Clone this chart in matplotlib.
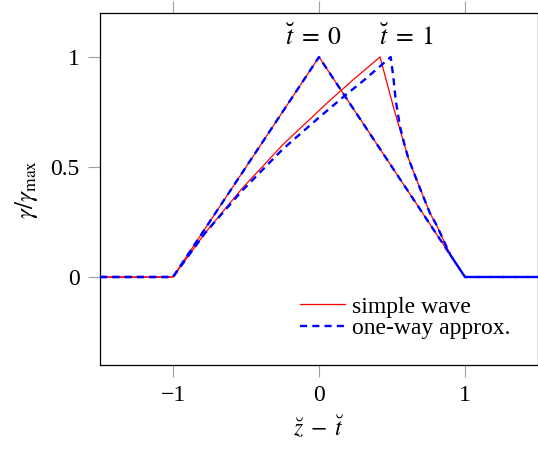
import matplotlib
matplotlib.use("Agg")
import matplotlib.pyplot as plt

plt.rcParams['font.family'] = ['Liberation Serif', 'DejaVu Serif']
plt.rcParams['mathtext.fontset'] = 'stix'

# t = 0 (both curves identical)
t0_x = [-1.5, -1.0, 0.0, 1.0, 1.5]
t0_y = [0.0, 0.0, 1.0, 0.0, 0.0]

# t = 1, simple wave
sw_x = [-1.5, -1.0, -0.78, -0.53, -0.25, -0.09, 0.07, 0.24, 0.418,
        0.509, 0.612, 0.669, 0.76, 0.806, 0.852, 0.90, 1.0, 1.5]
sw_y = [0.0, 0.0, 0.2, 0.40, 0.60, 0.70, 0.80, 0.90, 1.0,
        0.774, 0.54, 0.441, 0.29, 0.235, 0.168, 0.10, 0.0, 0.0]

# t = 1, one-way approximation
ow_x = [-1.5, -1.0, -0.78, -0.53, -0.25, 0.0, 0.18, 0.30, 0.429, 0.491,
        0.509, 0.525, 0.555, 0.589, 0.612, 0.669, 0.76, 0.806, 0.852, 0.90, 1.0, 1.5]
ow_y = [0.0, 0.0, 0.2, 0.39, 0.58, 0.725, 0.826, 0.89, 0.964, 1.0,
        0.91, 0.805, 0.683, 0.592, 0.54, 0.441, 0.29, 0.235, 0.168, 0.10, 0.0, 0.0]

xticks = [-1, 0, 1]
yticks = [0, 0.5, 1]
xtick_labels = ['\u22121', '0', '1']
ytick_labels = ['0', '0.5', '1']

fig = plt.figure(figsize=(5.38, 4.5), dpi=100)
ax = fig.add_axes([100/538, 1 - 365/450, 438/538, 352/450])

red = '#ff0000'
blue = '#0000ff'

ax.plot(t0_x, t0_y, color=red, lw=0.9, zorder=2)
l1, = ax.plot(sw_x, sw_y, color=red, lw=0.9, zorder=2, label='simple wave')
ax.plot(t0_x, t0_y, color=blue, lw=1.7, dashes=(3, 2.2), zorder=3)
l2, = ax.plot(ow_x, ow_y, color=blue, lw=1.7, dashes=(3, 2.2), zorder=3, label='one-way approx.')

ax.set_xlim(-1.5, 1.5)
ax.set_ylim(-0.4, 1.2)
ax.set_xticks(xticks)
ax.set_xticklabels(xtick_labels)
ax.set_yticks(yticks)
ax.set_yticklabels(ytick_labels)
ax.tick_params(direction='out', length=8.5, width=0.8, color='#a0a0a0',
               labelsize=17, pad=6, top=True, right=True)
for s in ax.spines.values():
    s.set_linewidth(0.9)
    s.set_color('black')

ax.set_xlabel(r'$\breve{z}\;-\;\breve{t}$', fontsize=17, labelpad=6)
ax.set_ylabel(r'$\gamma/\gamma_{\rm max}$', fontsize=18, labelpad=8)

ax.text(-0.04, 1.09, r'$\breve{t}\;=\;0$', fontsize=18.5, ha='center', va='center')
ax.text(0.596, 1.09, r'$\breve{t}\;=\;1$', fontsize=18.5, ha='center', va='center')

leg = ax.legend(handles=[l1, l2], loc='upper left',
                bbox_to_anchor=((300 - 100) / 438, (365 - 296) / 352),
                frameon=False, fontsize=17, handlelength=1.9, handletextpad=0.3,
                labelspacing=0.0, borderpad=0.0, borderaxespad=0.0)

fig.savefig('out.png', dpi=100)
